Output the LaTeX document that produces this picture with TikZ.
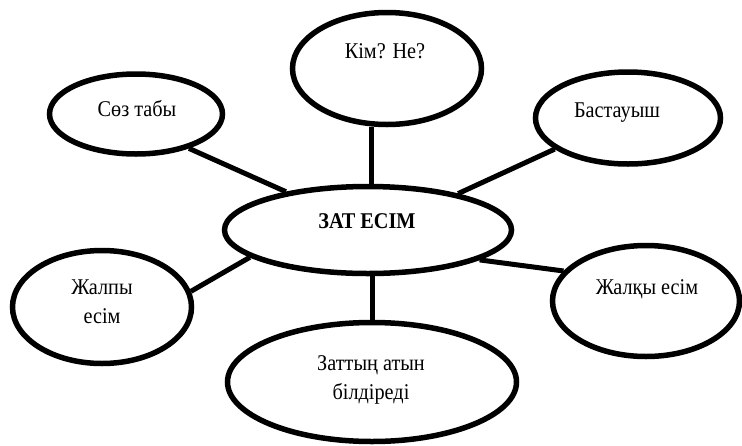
\documentclass[tikz,border=0pt]{standalone}
\usepackage{fontspec}
\setmainfont{Liberation Serif}[FakeStretch=0.9]
\usetikzlibrary{shapes.geometric}
\begin{document}
\begin{tikzpicture}[x=1pt,y=1pt,
  bub/.style={draw=black, line width=5.5pt, ellipse, inner sep=0pt},
  lbl/.style={font=\fontsize{22.5}{29}\selectfont, align=center, anchor=base, inner sep=0pt},
  conn/.style={line width=5pt, line cap=butt}]
\useasboundingbox (0,0) rectangle (742,-445);
% ellipses
\node[bub, minimum width=287pt, minimum height=87pt] (zat) at (368,-230) {};
\node[bub, minimum width=189pt, minimum height=112pt] (kim) at (387,-68.5) {};
\node[bub, minimum width=173pt, minimum height=80pt] (soz) at (136,-114) {};
\node[bub, minimum width=185pt, minimum height=92pt] (bast) at (628,-118) {};
\node[bub, minimum width=179pt, minimum height=113pt] (jalpy) at (102,-307) {};
\node[bub, minimum width=289pt, minimum height=119pt] (zattyn) at (372,-382) {};
\node[bub, minimum width=187pt, minimum height=111pt] (jalky) at (646,-301) {};
% labels
\node[lbl, font=\fontsize{22.5}{29}\selectfont\bfseries] (tzat) at (367,-228) {ЗАТ ЕСІМ};
\node[lbl] (tkim) at (385,-58) {Кім? Не?};
\node[lbl] (tsoz) at (137,-116) {Сөз табы};
\node[lbl] (tbast) at (617,-117) {Бастауыш};
\node[lbl] (tjalpy) at (102,-323) {Жалпы\\есім};
\node[lbl] (tzattyn) at (371,-399) {Заттың атын\\білдіреді};
\node[lbl] (tjalky) at (647,-294) {Жалқы есім};
% connectors
\draw[conn] (zat.north -| 371,0) coordinate (zt) -- (zt |- kim.south);
\draw[conn] (soz.327) -- (zat.155.5);
\draw[conn] (bast.203) -- (zat.22.8);
\draw[conn] (jalpy.10.9) -- (zat.193.8);
\draw[conn] (jalky.160) -- (zat.345.5);
\draw[conn] (zat.south -| 372,0) coordinate (zb) -- (zb |- zattyn.north);
\end{tikzpicture}
\end{document}
